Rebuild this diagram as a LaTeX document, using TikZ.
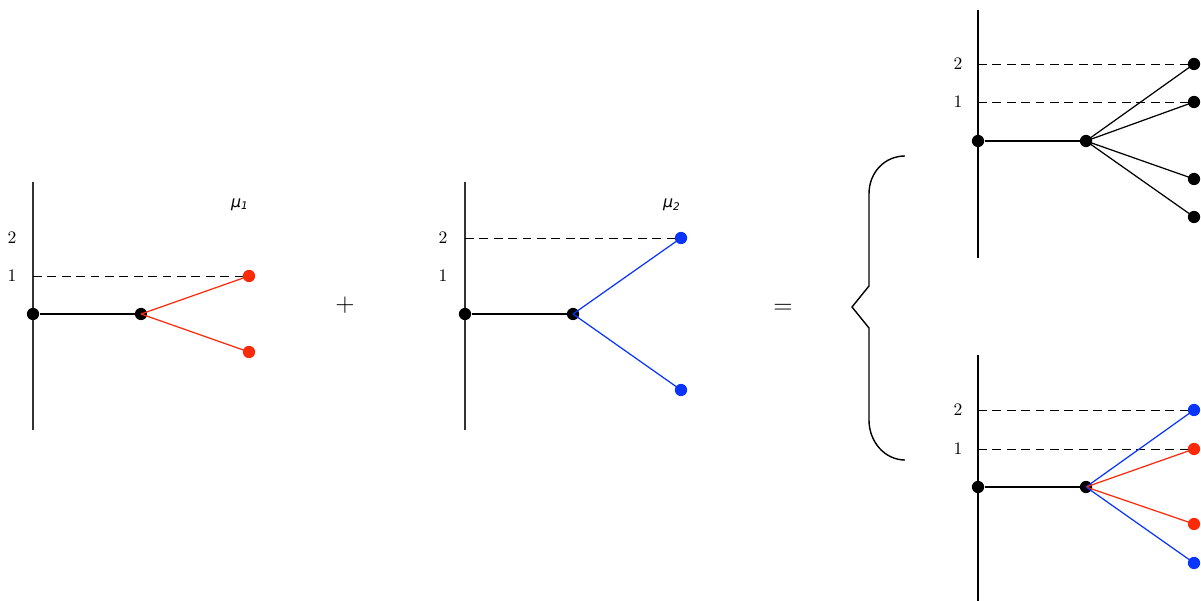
\documentclass[tikz,border=0pt]{standalone}
\usepackage{fontspec}
\newfontfamily\mufont{DejaVu Sans}
\definecolor{tred}{RGB}{252,42,8}
\definecolor{tblue}{RGB}{8,52,252}
\begin{document}
\begin{tikzpicture}[x=0.02cm,y=-0.02cm,
  dotk/.style={circle,fill=black,inner sep=0pt,minimum size=7pt},
  dotr/.style={circle,fill=tred,inner sep=0pt,minimum size=7pt},
  dotb/.style={circle,fill=tblue,inner sep=0pt,minimum size=7pt},
  axis/.style={line width=0.6pt,black!80},
  edge/.style={line width=0.7pt},
  lvl/.style={line width=0.5pt,dash pattern=on 5pt off 3.2pt},
  lab/.style={font=\fontsize{10}{12}\selectfont,inner sep=0pt},
  mulab/.style={font=\mufont\itshape\fontsize{9}{11}\selectfont,inner sep=0pt},
  op/.style={font=\fontsize{14}{16}\selectfont,inner sep=0pt}]
\useasboundingbox (0,0) rectangle (1201,601);
% diagram 1
\coordinate (a1t) at (33,182); \coordinate (a1b) at (33,430);
\draw[axis] (a1t) -- (a1b);
\node[dotk] (r1) at (33,314) {};
\node[dotk] (m1) at (141,314) {};
\node[dotr] (e1a) at (249,276) {};
\node[dotr] (e1b) at (249,352) {};
\draw[lvl] (r1 |- e1a) -- (e1a);
\draw[edge] (r1) -- (m1);
\draw[edge,tred] (m1.center) -- (e1a.center);
\draw[edge,tred] (m1.center) -- (e1b.center);
\node[lab] (l12) at (12,238) {2};
\node[lab] (l11) at (12,276) {1};
\node[mulab] (mu1) at (240,205) {μ\textsubscript{1}};
% plus
\node[op] (plus) at (345,305) {$+$};
% diagram 2
\draw[axis] (465,182) -- (465,430);
\node[dotk] (r2) at (465,314) {};
\node[dotk] (m2) at (573,314) {};
\node[dotb] (e2a) at (681,238) {};
\node[dotb] (e2b) at (681,390) {};
\draw[lvl] (r2 |- e2a) -- (e2a);
\draw[edge] (r2) -- (m2);
\draw[edge,tblue] (m2.center) -- (e2a.center);
\draw[edge,tblue] (m2.center) -- (e2b.center);
\node[lab] (l22) at (443,238) {2};
\node[lab] (l21) at (443,276) {1};
\node[mulab] (mu2) at (672,205) {μ\textsubscript{2}};
% equals
\node[op] (eq) at (783,309) {$=$};
% brace
\draw[line width=0.8pt] (905,156) .. controls (885,156) and (869,172) .. (869,194)
  -- (869,286) -- (852,307) -- (869,328) -- (869,420)
  .. controls (869,442) and (885,460) .. (905,460);
% diagram 3
\draw[axis,black] (978,10) -- (978,258);
\node[dotk] (r3) at (978,141) {};
\node[dotk] (m3) at (1086,141) {};
\node[dotk] (e3a) at (1194,64) {};
\node[dotk] (e3b) at (1194,102) {};
\node[dotk] (e3c) at (1194,179) {};
\node[dotk] (e3d) at (1194,217) {};
\draw[lvl] (r3 |- e3a) -- (e3a);
\draw[lvl] (r3 |- e3b) -- (e3b);
\draw[edge] (r3) -- (m3);
\foreach \e in {e3a,e3b,e3c,e3d} \draw[edge] (m3.center) -- (\e.center);
\node[lab] (l32) at (958,64) {2};
\node[lab] (l31) at (958,102) {1};
% diagram 4
\draw[axis,black] (978,355) -- (978,601);
\node[dotk] (r4) at (978,487) {};
\node[dotk] (m4) at (1086,487) {};
\node[dotb] (e4a) at (1194,410) {};
\node[dotr] (e4b) at (1194,449) {};
\node[dotr] (e4c) at (1194,524) {};
\node[dotb] (e4d) at (1194,563) {};
\draw[lvl] (r4 |- e4a) -- (e4a);
\draw[lvl] (r4 |- e4b) -- (e4b);
\draw[edge] (r4) -- (m4);
\draw[edge,tblue] (m4.center) -- (e4a.center);
\draw[edge,tred] (m4.center) -- (e4b.center);
\draw[edge,tred] (m4.center) -- (e4c.center);
\draw[edge,tblue] (m4.center) -- (e4d.center);
\node[lab] (l42) at (958,410) {2};
\node[lab] (l41) at (958,449) {1};
\end{tikzpicture}
\end{document}
